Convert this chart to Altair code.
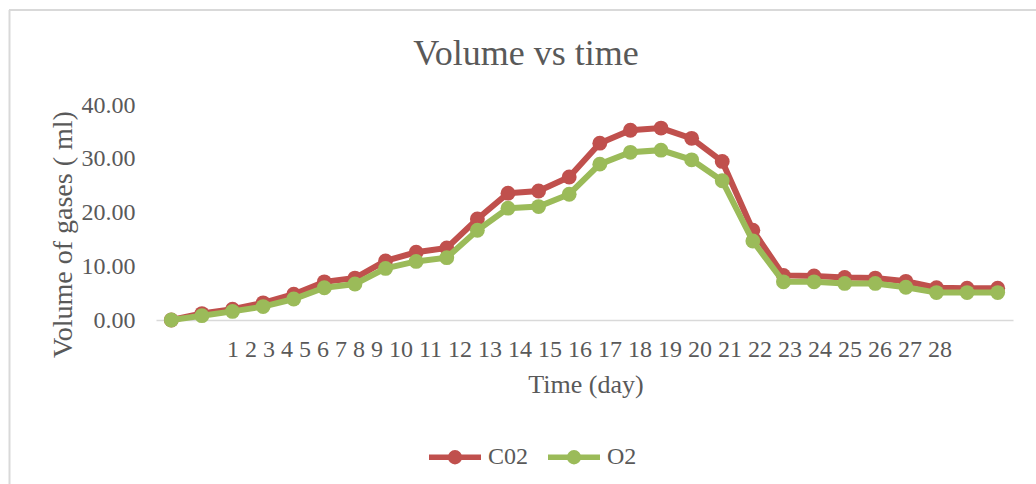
import altair as alt
import pandas as pd

# ---- data ----
days = list(range(1, 29))
tick_labels = [str(d) for d in range(1, 29)]
co2 = [0.0, 1.2, 2.0, 3.2, 4.8, 7.1, 7.8, 11.0, 12.6, 13.4, 18.8, 23.6, 24.0, 26.6,
       32.9, 35.3, 35.7, 33.8, 29.5, 16.7, 8.3, 8.2, 7.9, 7.8, 7.2, 6.0, 5.9, 5.9]
o2 = [0.0, 0.8, 1.6, 2.5, 3.9, 6.0, 6.7, 9.6, 10.9, 11.6, 16.7, 20.8, 21.1, 23.4,
      29.0, 31.2, 31.6, 29.8, 25.9, 14.7, 7.1, 7.1, 6.8, 6.8, 6.1, 5.1, 5.1, 5.1]
series_names = ["C02", "O2"]
series_colors = ["#C0504D", "#9BBB59"]

rows = []
for name, vals in zip(series_names, [co2, o2]):
    for d, v in zip(days, vals):
        rows.append({"day": d, "value": v, "series": name})
df = pd.DataFrame(rows)

FONT = "Liberation Serif"
TXT = "#595959"

legend_path = ("M-1,0L1,0M-0.17,0A0.17,0.17,0,1,0,0.17,0"
               "A0.17,0.17,0,1,0,-0.17,0Z")

color = alt.Color(
    "series:N",
    scale=alt.Scale(domain=series_names, range=series_colors),
    legend=alt.Legend(
        title=None, orient="none", legendX=270, legendY=323,
        direction="horizontal", symbolType=legend_path, symbolSize=2704,
        symbolStrokeWidth=5.5, labelFont=FONT, labelFontSize=24,
        labelColor=TXT, columnPadding=8, labelOffset=4,
    ),
)

x = alt.X(
    "day:Q",
    scale=alt.Scale(domain=[0.5, 28.5], nice=False, zero=False),
    axis=alt.Axis(
        title="Time (day)", labels=False, ticks=False, grid=False,
        domainColor="#d9d9d9", domainWidth=1.5,
        titleFont=FONT, titleFontSize=26, titleColor=TXT, titleFontWeight="normal",
        titleX=429.5, titleY=72, titleBaseline="alphabetic",
    ),
)
y = alt.Y(
    "value:Q",
    scale=alt.Scale(domain=[0, 40], nice=False),
    axis=alt.Axis(
        title="Volume of gases ( ml)", values=[0, 10, 20, 30, 40], format=".2f",
        domain=False, ticks=False, tickSize=0, grid=False, labelPadding=21,
        labelFont=FONT, labelFontSize=24, labelColor=TXT,
        titleFont=FONT, titleFontSize=28, titleColor=TXT, titleFontWeight="normal",
        titleX=-85, titleY=129, titleBaseline="alphabetic",
    ),
)

base = alt.Chart(df)
layers = []
for name in series_names:
    sub = base.transform_filter(alt.datum.series == name)
    layers.append(sub.mark_line(strokeWidth=6).encode(x=x, y=y, color=color))
    layers.append(sub.mark_circle(size=220, opacity=1).encode(x=x, y=y, color=color))

one = pd.DataFrame({"k": [0]})
title_df = pd.DataFrame({"t": ["Volume vs time"]})
xlab_df = pd.DataFrame({"t": [" ".join(tick_labels)]})

title = alt.Chart(title_df).mark_text(
    font=FONT, fontSize=36, color=TXT, align="center", baseline="alphabetic"
).encode(text="t:N", x=alt.value(370), y=alt.value(-40))

xlabels = alt.Chart(xlab_df).mark_text(
    font=FONT, fontSize=24, color=TXT, align="center", baseline="alphabetic"
).encode(text="t:N", x=alt.value(433.5), y=alt.value(252))

border_top = alt.Chart(one).mark_rule(color="#d9d9d9", strokeWidth=2).encode(
    x=alt.value(-147), x2=alt.value(900), y=alt.value(-95))
border_left = alt.Chart(one).mark_rule(color="#d9d9d9", strokeWidth=2).encode(
    x=alt.value(-146.5), y=alt.value(-95), y2=alt.value(400))

chart = alt.layer(border_top, border_left, *layers, title, xlabels).properties(
    width=857, height=215,
    autosize=alt.AutoSizeParams(type="none"),
    padding={"left": 156, "top": 105, "right": 23, "bottom": 164},
    background="white",
).configure_view(stroke=None)

chart.save("out.html", embed_options={"renderer": "svg", "actions": False})
